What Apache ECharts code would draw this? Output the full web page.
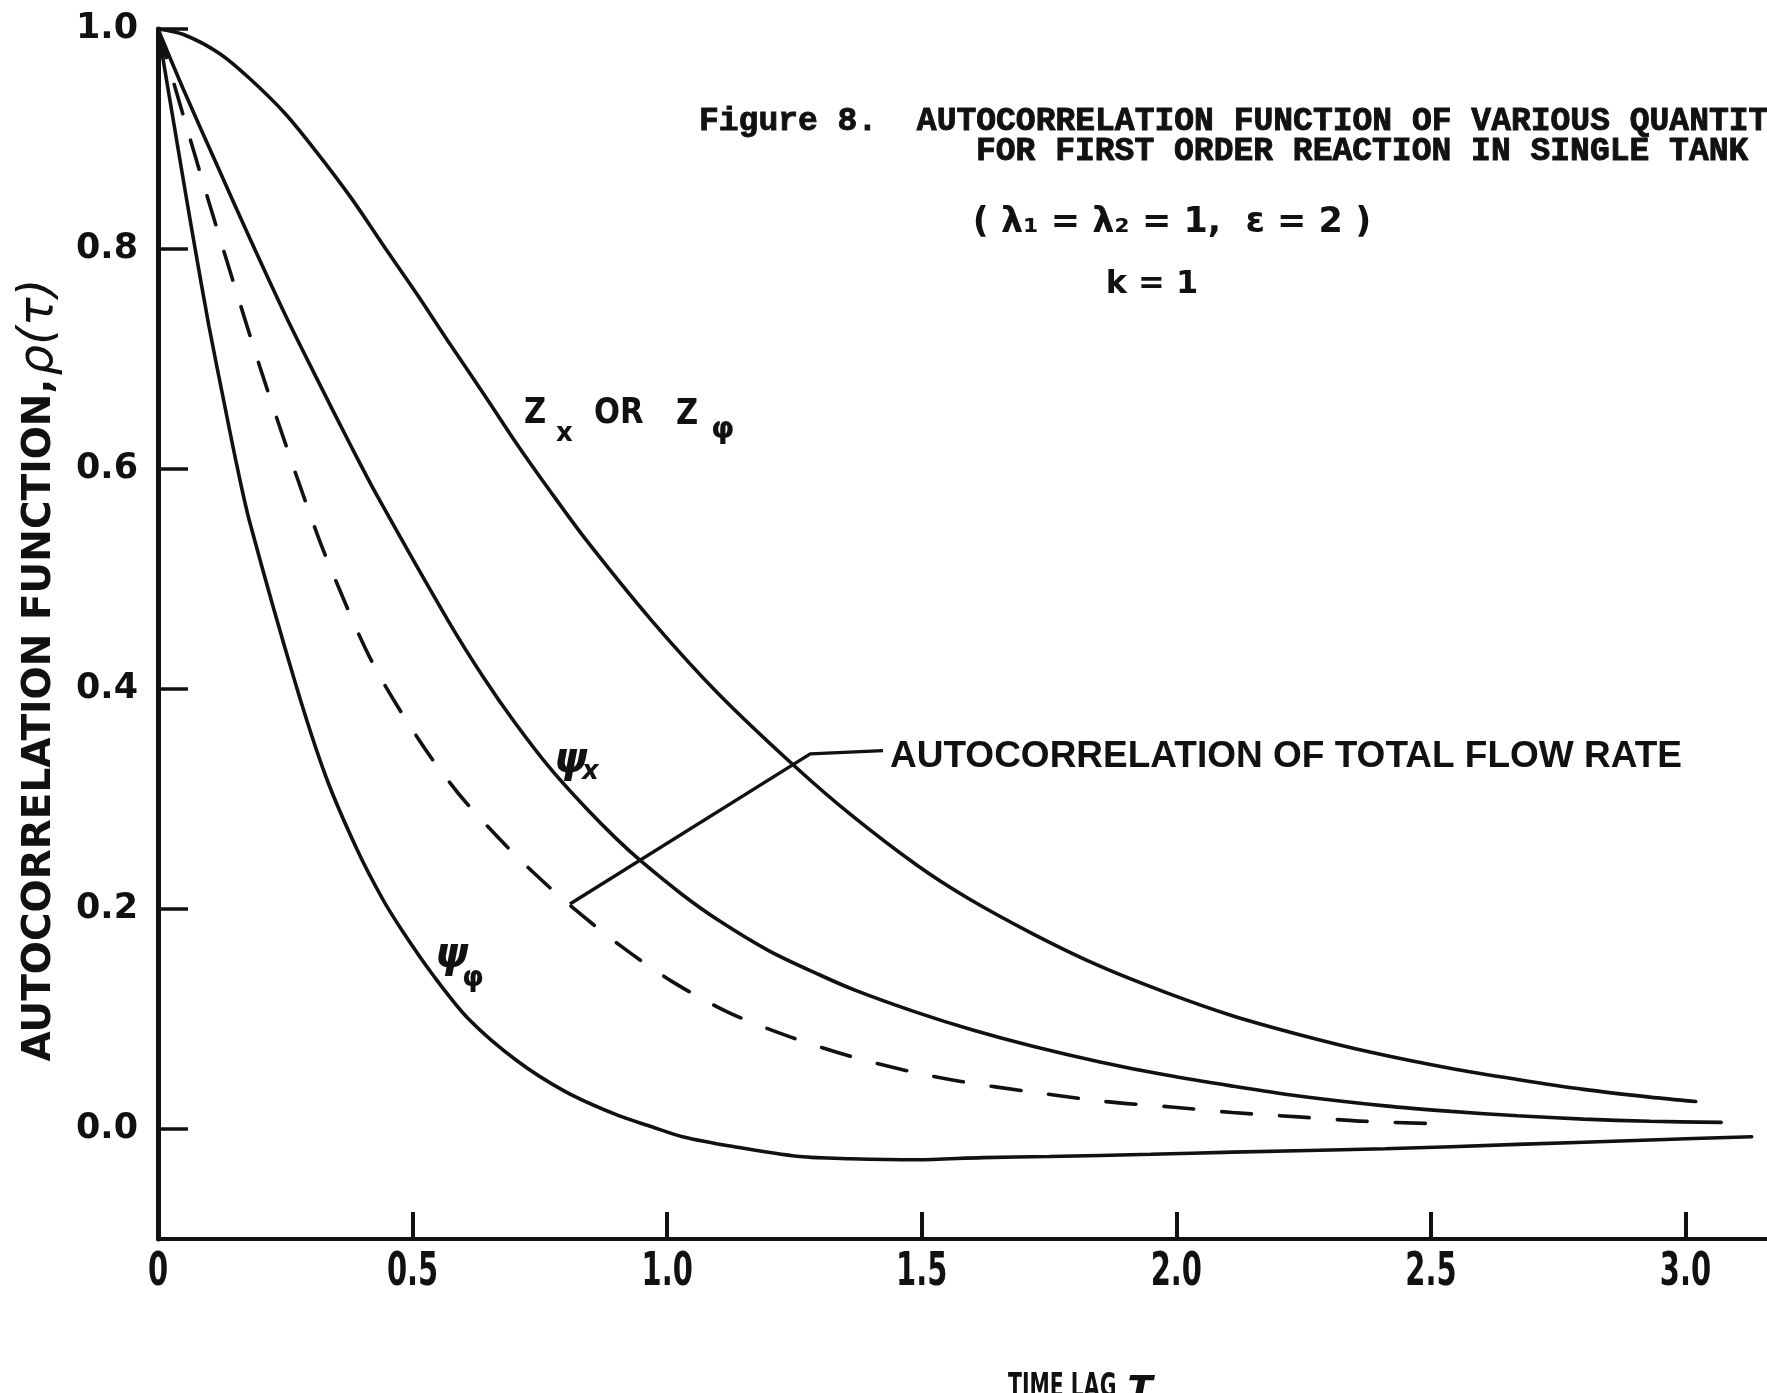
<!DOCTYPE html>
<html>
<head>
<meta charset="utf-8">
<script src="https://cdn.jsdelivr.net/npm/echarts@6/dist/echarts.min.js"></script>
<style>
  html, body { margin: 0; padding: 0; background: #ffffff; }
  #chart { width: 1767px; height: 1393px; }
</style>
</head>
<body>
<div id="chart"></div>
<script>
// Autocorrelation rho(tau) against time lag tau, first order reaction, single tank.

// Z_x or Z_phi
const zTau = [0, 0.05, 0.12, 0.18, 0.25, 0.31, 0.38, 0.44, 0.51, 0.57, 0.64, 0.70, 0.77, 0.84, 0.97, 1.10, 1.25, 1.36, 1.49, 1.59, 1.72, 1.85, 1.98, 2.11, 2.24, 2.38, 2.54, 2.67, 2.80, 2.93, 3.02];
const zRho = [1.000, 0.995, 0.978, 0.955, 0.923, 0.889, 0.846, 0.805, 0.758, 0.716, 0.668, 0.626, 0.580, 0.536, 0.462, 0.396, 0.330, 0.286, 0.240, 0.210, 0.177, 0.148, 0.124, 0.103, 0.086, 0.070, 0.055, 0.045, 0.036, 0.029, 0.025];

// psi_x
const psiXTau = [0, 0.05, 0.12, 0.18, 0.25, 0.31, 0.38, 0.43, 0.57, 0.64, 0.70, 0.77, 0.84, 0.90, 0.95, 1.03, 1.10, 1.20, 1.30, 1.37, 1.49, 1.60, 1.72, 1.85, 1.98, 2.11, 2.24, 2.41, 2.54, 2.67, 2.80, 2.93, 3.07];
const psiXRho = [1.000, 0.945, 0.872, 0.810, 0.740, 0.684, 0.620, 0.576, 0.462, 0.410, 0.370, 0.328, 0.292, 0.264, 0.243, 0.213, 0.190, 0.162, 0.140, 0.126, 0.106, 0.090, 0.075, 0.061, 0.049, 0.039, 0.030, 0.021, 0.016, 0.012, 0.009, 0.007, 0.006];

// total flow rate (dashed)
const flowTau = [0, 0.06, 0.09, 0.13, 0.16, 0.20, 0.24, 0.29, 0.33, 0.42, 0.515, 0.59, 0.67, 0.74, 0.81, 0.91, 1.01, 1.12, 1.24, 1.36, 1.48, 1.58, 1.71, 1.86, 1.99, 2.11, 2.24, 2.37, 2.50];
const flowRho = [1.000, 0.905, 0.858, 0.797, 0.752, 0.693, 0.637, 0.570, 0.520, 0.425, 0.352, 0.305, 0.264, 0.232, 0.203, 0.166, 0.134, 0.106, 0.084, 0.066, 0.052, 0.043, 0.034, 0.025, 0.020, 0.015, 0.011, 0.007, 0.005];

// psi_phi
const psiPhiTau = [0, 0.05, 0.07, 0.10, 0.13, 0.155, 0.18, 0.27, 0.33, 0.39, 0.44, 0.48, 0.54, 0.61, 0.705, 0.80, 0.90, 0.97, 1.03, 1.13, 1.26, 1.36, 1.49, 1.62, 1.75, 1.95, 2.11, 2.41, 2.67, 2.93, 3.13];
const psiPhiRho = [1.000, 0.862, 0.808, 0.730, 0.660, 0.603, 0.552, 0.405, 0.320, 0.255, 0.210, 0.180, 0.140, 0.100, 0.062, 0.034, 0.013, 0.002, -0.007, -0.016, -0.025, -0.027, -0.028, -0.026, -0.025, -0.023, -0.021, -0.018, -0.014, -0.010, -0.007];

// callout from the dashed curve to its caption
const leaderTau = [0.809, 1.281, 1.424];
const leaderRho = [0.2045, 0.341, 0.344];

// axis ticks and their labels
const xTickValues = [0.5, 1.0, 1.5, 2.0, 2.5, 3.0];
const xLabelValues = [0, 0.5, 1.0, 1.5, 2.0, 2.5, 3.0];
const xTickLabels = ['0', '0.5', '1.0', '1.5', '2.0', '2.5', '3.0'];
const yTickValues = [0, 0.2, 0.4, 0.6, 0.8, 1.0];
const yTickLabels = ['0.0', '0.2', '0.4', '0.6', '0.8', '1.0'];

const INK = '#111111';
const pairs = (xs, ys) => xs.map((x, i) => [x, ys[i]]);
const labelFor = (vals, labels) => v => {
  const i = vals.findIndex(t => Math.abs(t - v) < 1e-6);
  return i < 0 ? '' : labels[i];
};

const SANS = '"Liberation Sans", Arial, sans-serif';
const MONO = '"Liberation Mono", "DejaVu Sans Mono", monospace';
const HAND = '"DejaVu Sans", "Noto Sans", sans-serif';

const curve = (name, xs, ys, dashed) => ({
  name,
  type: 'line',
  data: pairs(xs, ys),
  symbol: 'none',
  smooth: 0.3,
  silent: true,
  lineStyle: { color: INK, width: 3.6, type: dashed ? [30, 28] : 'solid', cap: 'round' },
  z: 3
});

const chart = echarts.init(document.getElementById('chart'), null, { renderer: 'canvas' });

chart.setOption({
  backgroundColor: '#ffffff',
  animation: false,
  grid: { left: 158, right: 0, top: 29, bottom: 154, containLabel: false, outerBoundsMode: 'none' },
  xAxis: {
    type: 'value',
    min: 0,
    max: 3.16,
    interval: 0.5,
    splitLine: { show: false },
    axisLine: { onZero: false, lineStyle: { color: INK, width: 4 } },
    axisTick: { show: true, inside: true, length: 27, customValues: xTickValues, lineStyle: { color: INK, width: 4 } },
    axisLabel: { show: false }
  },
  yAxis: {
    type: 'value',
    min: -0.1,
    max: 1.0,
    interval: 0.1,
    splitLine: { show: false },
    axisLine: { onZero: false, lineStyle: { color: INK, width: 5 } },
    axisTick: { show: true, inside: true, length: 30, customValues: yTickValues, lineStyle: { color: INK, width: 3.5 } },
    axisLabel: {
      customValues: yTickValues,
      formatter: labelFor(yTickValues, yTickLabels),
      color: INK,
      fontFamily: HAND,
      fontWeight: 'bold',
      fontSize: 35,
      margin: 20
    }
  },
  series: [
    curve('Z_x or Z_phi', zTau, zRho, false),
    curve('psi_x', psiXTau, psiXRho, false),
    curve('total flow rate', flowTau, flowRho, true),
    curve('psi_phi', psiPhiTau, psiPhiRho, false),
    {
      name: 'callout',
      type: 'line',
      data: pairs(leaderTau, leaderRho),
      symbol: 'none',
      silent: true,
      lineStyle: { color: INK, width: 3.4 },
      z: 4
    }
  ]
});

// Tall, condensed tick numerals under the time axis, placed by the axis scale.
const xLabelTexts = xLabelValues.map((v, i) => {
  const p = chart.convertToPixel({ xAxisIndex: 0, yAxisIndex: 0 }, [v, -0.1]);
  return {
    type: 'text', x: p[0], y: p[1] + 34, scaleX: 0.63,
    style: { text: xTickLabels[i], font: 'bold 46px ' + HAND, fill: INK, align: 'center', verticalAlign: 'middle' }
  };
});

const boldMono = { fill: INK, stroke: INK, lineWidth: 0.9, align: 'left', verticalAlign: 'middle' };

const annotationTexts = [
  { type: 'text', x: 699, y: 122, style: Object.assign({ text: 'Figure 8.  AUTOCORRELATION FUNCTION OF VARIOUS QUANTITIES', font: 'bold 33px ' + MONO }, boldMono) },
  { type: 'text', x: 976, y: 152, style: Object.assign({ text: 'FOR FIRST ORDER REACTION IN SINGLE TANK', font: 'bold 33px ' + MONO }, boldMono) },
  { type: 'text', x: 1172, y: 223, style: { text: '( λ₁ = λ₂ = 1,  ε = 2 )', font: 'bold 35px ' + HAND, fill: INK, align: 'center', verticalAlign: 'middle' } },
  { type: 'text', x: 1152, y: 285, style: { text: 'k = 1', font: 'bold 32px ' + HAND, fill: INK, align: 'center', verticalAlign: 'middle' } },

  // curve captions
  { type: 'text', x: 524, y: 414, scaleX: 0.85, style: { text: 'Z', font: 'bold 36px ' + HAND, fill: INK, align: 'left', verticalAlign: 'middle' } },
  { type: 'text', x: 556, y: 434, style: { text: 'x', font: 'bold 26px ' + HAND, fill: INK, align: 'left', verticalAlign: 'middle' } },
  { type: 'text', x: 594, y: 414, scaleX: 0.85, style: { text: 'OR', font: 'bold 36px ' + HAND, fill: INK, align: 'left', verticalAlign: 'middle' } },
  { type: 'text', x: 676, y: 415, scaleX: 0.85, style: { text: 'Z', font: 'bold 36px ' + HAND, fill: INK, align: 'left', verticalAlign: 'middle' } },
  { type: 'text', x: 711, y: 430, style: { text: 'φ', font: 'bold 30px ' + HAND, fill: INK, align: 'left', verticalAlign: 'middle' } },

  { type: 'text', x: 554, y: 761, style: { text: 'ψ', font: 'italic bold 42px ' + HAND, fill: INK, align: 'left', verticalAlign: 'middle' } },
  { type: 'text', x: 582, y: 772, style: { text: 'x', font: 'italic bold 26px ' + HAND, fill: INK, align: 'left', verticalAlign: 'middle' } },
  { type: 'text', x: 435, y: 956, style: { text: 'ψ', font: 'italic bold 42px ' + HAND, fill: INK, align: 'left', verticalAlign: 'middle' } },
  { type: 'text', x: 462, y: 979, style: { text: 'φ', font: 'bold 28px ' + HAND, fill: INK, align: 'left', verticalAlign: 'middle' } },

  { type: 'text', x: 890, y: 757, style: { text: 'AUTOCORRELATION OF TOTAL FLOW RATE', font: 'bold 37px ' + SANS, fill: INK, align: 'left', verticalAlign: 'middle' } },

  // axis titles
  {
    type: 'text', x: 40, y: 670, rotation: Math.PI / 2,
    style: {
      text: '{a|AUTOCORRELATION FUNCTION,} {b|ρ(τ)}',
      fill: INK, align: 'center', verticalAlign: 'middle',
      rich: {
        a: { font: 'bold 39px ' + HAND, fill: INK },
        b: { font: 'italic 48px ' + HAND, fill: INK }
      }
    }
  },
  { type: 'text', x: 1008, y: 1371, scaleX: 0.6, style: { text: 'TIME LAG', font: 'bold 34px ' + HAND, fill: INK, align: 'left', verticalAlign: 'top' } },
  { type: 'text', x: 1127, y: 1366, style: { text: 'τ', font: 'italic bold 42px ' + HAND, fill: INK, align: 'left', verticalAlign: 'top' } }
];

chart.setOption({ graphic: annotationTexts.concat(xLabelTexts) });
</script>
</body>
</html>
